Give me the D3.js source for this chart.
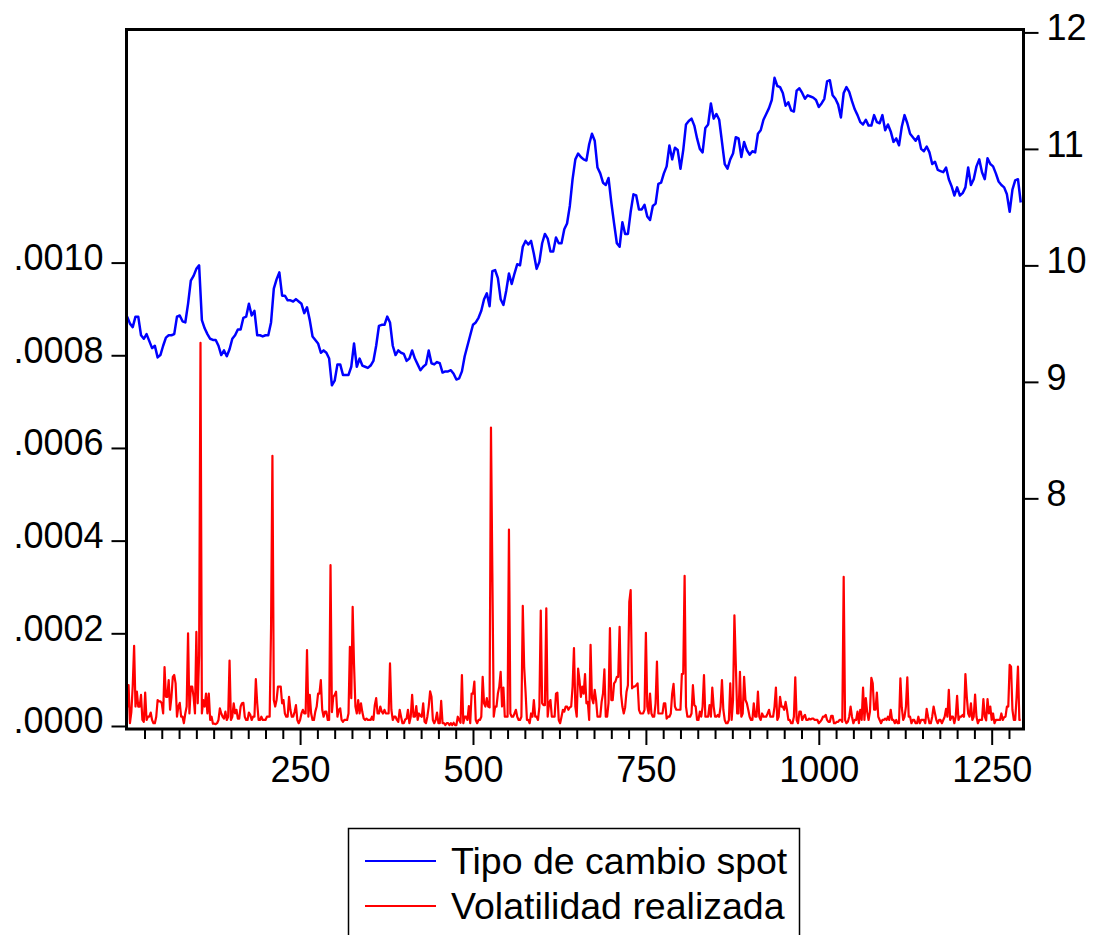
<!DOCTYPE html>
<html>
<head>
<meta charset="utf-8">
<script src="https://cdn.jsdelivr.net/npm/d3@7"></script>
<style>
body { margin: 0; background: #ffffff; }
text { font-family: "Liberation Sans", Arial, sans-serif; }
</style>
</head>
<body>
<div id="chart"></div>
<script>
// tipo de cambio spot, one reading every 4 observations (obs 0, 4, 8 ...)
var spot_step = 4;
var spot = [
	9.56, 9.50, 9.47, 9.56, 9.56, 9.40, 9.37, 9.41, 9.35, 9.29,
	9.31, 9.21, 9.23, 9.31, 9.38, 9.40, 9.40, 9.41, 9.56, 9.57,
	9.52, 9.51, 9.67, 9.87, 9.91, 9.97, 10.00, 9.53, 9.46, 9.41,
	9.37, 9.36, 9.36, 9.31, 9.23, 9.27, 9.22, 9.28, 9.37, 9.40,
	9.45, 9.45, 9.55, 9.56, 9.67, 9.57, 9.61, 9.40, 9.40, 9.39,
	9.40, 9.40, 9.51, 9.80, 9.88, 9.94, 9.74, 9.74, 9.70, 9.70,
	9.69, 9.71, 9.69, 9.67, 9.59, 9.64, 9.53, 9.39, 9.36, 9.33,
	9.25, 9.27, 9.25, 9.20, 8.97, 9.01, 9.15, 9.15, 9.06, 9.06,
	9.06, 9.13, 9.33, 9.13, 9.20, 9.14, 9.13, 9.12, 9.14, 9.18,
	9.31, 9.48, 9.49, 9.49, 9.56, 9.51, 9.31, 9.23, 9.27, 9.25,
	9.24, 9.18, 9.20, 9.27, 9.20, 9.15, 9.10, 9.13, 9.15, 9.27,
	9.16, 9.15, 9.17, 9.16, 9.08, 9.09, 9.09, 9.10, 9.07, 9.02,
	9.03, 9.09, 9.22, 9.31, 9.40, 9.49, 9.51, 9.55, 9.61, 9.71,
	9.76, 9.65, 9.95, 9.96, 9.89, 9.71, 9.66, 9.78, 9.93, 9.84,
	9.93, 10.01, 10.00, 10.16, 10.21, 10.18, 10.21, 10.10, 9.97, 10.03,
	10.19, 10.27, 10.23, 10.12, 10.12, 10.24, 10.19, 10.19, 10.31, 10.36,
	10.51, 10.74, 10.91, 10.96, 10.93, 10.91, 10.90, 11.04, 11.13, 11.07,
	10.84, 10.79, 10.71, 10.69, 10.75, 10.54, 10.36, 10.19, 10.16, 10.37,
	10.27, 10.27, 10.46, 10.61, 10.60, 10.48, 10.48, 10.52, 10.42, 10.39,
	10.51, 10.53, 10.70, 10.71, 10.79, 10.85, 11.03, 10.91, 11.01, 10.99,
	10.83, 10.99, 11.21, 11.24, 11.26, 11.20, 11.09, 11.00, 10.97, 11.18,
	11.21, 11.39, 11.26, 11.30, 11.25, 11.06, 10.87, 10.83, 10.91, 10.96,
	11.10, 11.09, 10.93, 11.06, 10.99, 10.95, 10.98, 10.97, 11.13, 11.16,
	11.25, 11.30, 11.35, 11.42, 11.61, 11.54, 11.53, 11.48, 11.37, 11.40,
	11.33, 11.32, 11.50, 11.52, 11.48, 11.43, 11.46, 11.45, 11.44, 11.42,
	11.36, 11.39, 11.43, 11.58, 11.59, 11.46, 11.43, 11.38, 11.27, 11.48,
	11.53, 11.49, 11.41, 11.34, 11.29, 11.23, 11.21, 11.25, 11.20, 11.20,
	11.29, 11.23, 11.22, 11.29, 11.16, 11.21, 11.15, 11.06, 11.09, 11.03,
	11.19, 11.29, 11.22, 11.13, 11.10, 11.07, 11.11, 11.00, 10.98, 11.02,
	10.97, 10.87, 10.89, 10.82, 10.81, 10.80, 10.84, 10.74, 10.68, 10.60,
	10.67, 10.60, 10.62, 10.67, 10.84, 10.69, 10.74, 10.85, 10.91, 10.80,
	10.74, 10.92, 10.87, 10.85, 10.79, 10.72, 10.69, 10.67, 10.61, 10.46,
	10.65, 10.73, 10.74, 10.54
];

// volatilidad realizada in millionths, one reading every 2 observations
var vol_step = 2;
var vol_micro = [
	40,88,6,30,86,173,42,74,42,42,67,13,9,72,13,20,20,29,13,6,
	6,20,56,53,53,49,27,127,63,63,99,35,63,106,110,92,20,42,50,20,
	20,6,27,42,200,27,85,85,63,27,203,49,153,827,27,56,42,70,27,70,
	13,20,5,5,4,6,13,38,27,20,16,31,13,20,141,13,20,49,27,35,
	16,16,42,49,50,20,13,13,29,24,13,20,20,101,49,13,13,20,13,13,
	13,20,20,20,211,583,56,42,56,85,85,85,49,56,27,20,20,63,35,20,
	20,30,45,13,6,13,27,35,27,27,164,20,67,27,13,13,31,42,70,70,
	99,35,20,31,31,13,13,347,30,63,67,74,20,35,38,13,9,13,13,13,
	27,171,60,257,132,42,27,56,27,49,30,16,13,16,13,13,13,20,13,45,
	60,27,27,42,31,27,35,27,27,27,135,35,13,20,20,13,9,35,20,6,
	6,14,16,35,6,20,67,20,20,43,13,27,22,20,49,9,6,20,42,75,
	63,13,6,13,29,6,6,54,6,6,2,6,6,2,6,2,7,2,2,20,
	13,7,110,6,20,20,13,43,6,70,70,96,13,6,13,13,20,106,49,42,
	60,42,40,644,329,20,42,42,70,85,117,42,83,20,20,20,424,27,20,20,
	27,35,20,13,13,20,259,127,74,13,13,6,27,20,56,20,20,13,42,249,
	49,45,45,254,20,49,56,20,20,20,70,72,13,6,20,35,31,42,42,35,
	40,42,85,168,42,20,124,99,63,85,70,112,49,52,13,175,60,49,78,56,
	20,20,20,52,70,122,20,20,50,211,56,56,92,96,106,106,214,70,42,27,
	40,74,88,268,293,81,85,85,88,92,35,27,27,27,35,201,42,27,70,27,
	20,20,49,139,27,27,27,27,49,49,16,20,20,27,70,91,42,35,35,35,
	35,112,113,324,42,20,20,20,27,88,45,42,13,13,31,20,42,110,20,20,
	20,45,20,83,42,20,20,24,20,42,99,35,13,6,6,13,92,13,56,239,
	135,27,27,117,20,27,106,56,49,35,20,13,13,49,20,20,74,20,13,27,
	20,20,20,27,35,20,20,20,42,83,13,20,63,42,42,35,52,35,13,13,
	6,6,20,105,13,6,31,31,13,20,24,13,13,16,14,16,16,13,13,13,
	6,9,13,20,20,24,13,9,9,22,22,6,6,9,9,13,13,9,322,13,
	6,9,20,42,20,6,13,13,31,6,35,13,83,13,60,30,13,31,104,92,
	35,35,72,20,13,6,13,13,16,13,20,13,35,13,13,6,13,6,6,103,
	40,13,20,42,105,20,20,6,13,13,6,6,20,6,13,13,13,6,37,20,
	6,6,20,42,27,13,6,13,13,6,13,20,37,20,78,13,20,20,6,20,
	65,13,20,20,24,20,112,63,27,20,49,13,20,68,20,6,13,13,13,58,
	20,12,58,27,42,13,27,6,13,13,13,13,27,13,19,20,42,42,132,128,
	35,13,13,62,128,13,13
];

var left_ticks = [0, 0.0002, 0.0004, 0.0006, 0.0008, 0.0010];
var right_ticks = [8, 9, 10, 11, 12];
var x_major = [250, 500, 750, 1000, 1250];
var x_minor = d3.range(25, 1296, 25);
var series_names = ["Tipo de cambio spot", "Volatilidad realizada"];
var series_colors = ["#0000ff", "#ff0000"];

var frame = {left: 126.5, top: 29.5, right: 1023.5, bottom: 729};

var svg = d3.select("#chart").append("svg")
	.attr("width", 1095)
	.attr("height", 935);

var x = d3.scaleLinear()
	.domain([-1, 1296])
	.range([frame.left, frame.right]);
var y_left = d3.scaleLinear()
	.domain([-0.0000065, 0.001503])
	.range([frame.bottom, frame.top]);
var y_right = d3.scaleLinear()
	.domain([6.02, 12.025])
	.range([frame.bottom, frame.top]);

var spot_line = d3.line()
	.x(function(d, i) { return x(i * spot_step); })
	.y(function(d) { return y_right(d); });
var vol_line = d3.line()
	.x(function(d, i) { return x(i * vol_step); })
	.y(function(d) { return y_left(d * 1e-6); });

svg.append("path")
	.datum(spot)
	.attr("d", spot_line)
	.attr("fill", "none")
	.attr("stroke", series_colors[0])
	.attr("stroke-width", 2.5)
	.attr("stroke-linejoin", "round");

svg.append("path")
	.datum(vol_micro)
	.attr("d", vol_line)
	.attr("fill", "none")
	.attr("stroke", series_colors[1])
	.attr("stroke-width", 2.2)
	.attr("stroke-linejoin", "round");

// axes
var left_axis = svg.append("g")
	.attr("transform", "translate(" + frame.left + ",0)")
	.call(d3.axisLeft(y_left)
		.tickValues(left_ticks)
		.tickSize(15)
		.tickPadding(8)
		.tickFormat(function(d) { return d3.format(".4f")(d).replace(/^0/, ""); }));

var right_axis = svg.append("g")
	.attr("transform", "translate(" + frame.right + ",0)")
	.call(d3.axisRight(y_right)
		.tickValues(right_ticks)
		.tickSize(15)
		.tickPadding(8)
		.tickFormat(d3.format("d")));

var minor_axis = svg.append("g")
	.attr("transform", "translate(0," + frame.bottom + ")")
	.call(d3.axisBottom(x)
		.tickValues(x_minor.filter(function(d) { return d % 250 != 0; }))
		.tickSize(10)
		.tickFormat(""));

var bottom_axis = svg.append("g")
	.attr("transform", "translate(0," + frame.bottom + ")")
	.call(d3.axisBottom(x)
		.tickValues(x_major)
		.tickSize(16)
		.tickPadding(11)
		.tickFormat(d3.format("d")));

[left_axis, right_axis, minor_axis, bottom_axis].forEach(function(g) {
	g.select(".domain").remove();
	g.selectAll(".tick line")
		.attr("stroke", "#000")
		.attr("stroke-width", 2);
	g.selectAll(".tick text")
		.attr("fill", "#000")
		.attr("font-size", 36)
		.attr("font-family", "'Liberation Sans', Arial, sans-serif");
});
left_axis.selectAll(".tick text").attr("dy", "0.19em");
right_axis.selectAll(".tick text").attr("dy", "0.2em");

// frame
svg.append("rect")
	.attr("x", frame.left)
	.attr("y", frame.top)
	.attr("width", frame.right - frame.left)
	.attr("height", frame.bottom - frame.top)
	.attr("fill", "none")
	.attr("stroke", "#000")
	.attr("stroke-width", 3);

// legend
var legend = svg.append("g");
legend.append("rect")
	.attr("x", 348.5)
	.attr("y", 828.5)
	.attr("width", 451)
	.attr("height", 140)
	.attr("fill", "#fff")
	.attr("stroke", "#000")
	.attr("stroke-width", 1.5);

var legend_rows = legend.selectAll(".legend-row")
	.data(series_names)
	.enter().append("g")
	.attr("class", "legend-row")
	.attr("transform", function(d, i) { return "translate(0," + (861 + i * 45) + ")"; });

legend_rows.append("line")
	.attr("x1", 365)
	.attr("x2", 436)
	.attr("stroke", function(d, i) { return series_colors[i]; })
	.attr("stroke-width", 2);

legend_rows.append("text")
	.attr("x", 451)
	.attr("y", 12.5)
	.attr("font-size", 37.5)
	.attr("fill", "#000")
	.text(function(d) { return d; });
</script>
</body>
</html>
